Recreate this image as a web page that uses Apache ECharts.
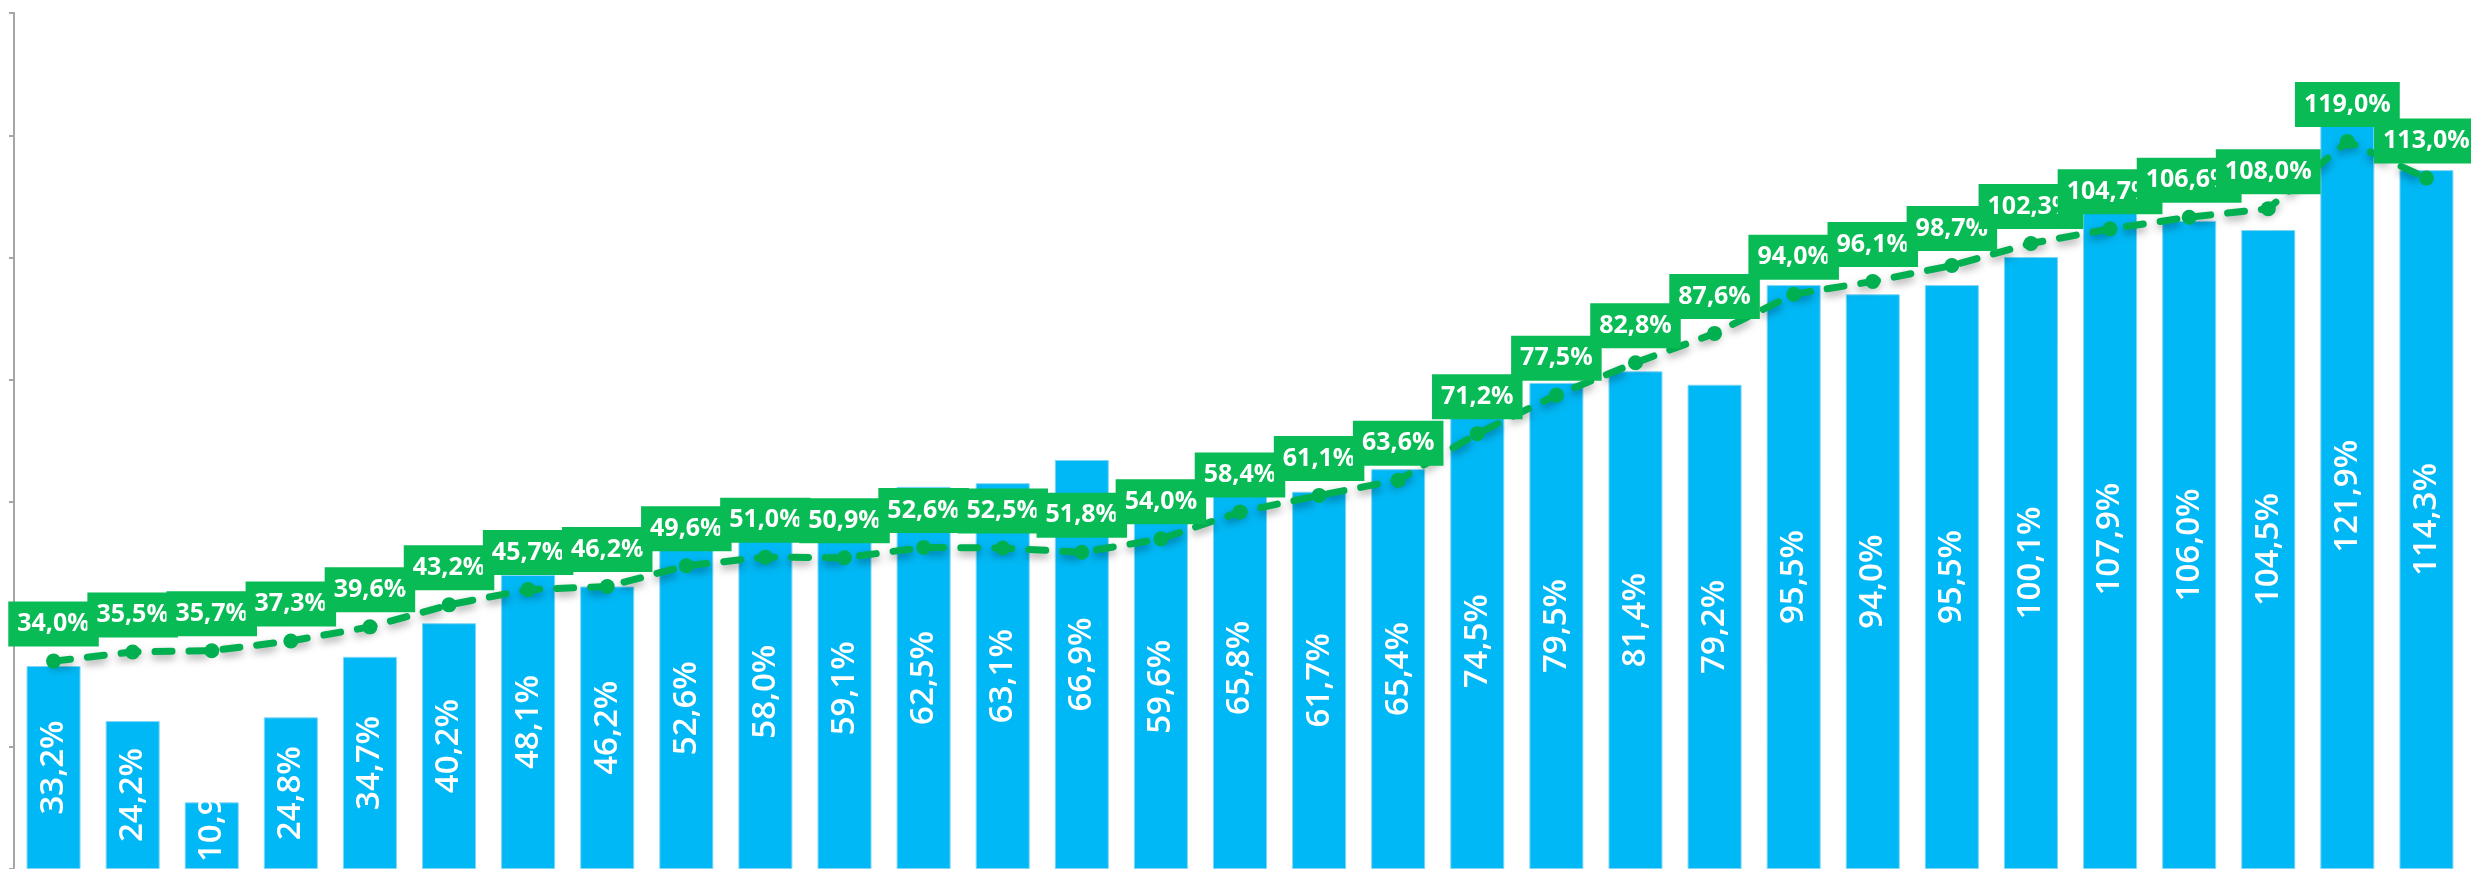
<!DOCTYPE html>
<html>
<head>
<meta charset="utf-8">
<script src="https://cdn.jsdelivr.net/npm/echarts@6/dist/echarts.min.js"></script>
<style>
  html, body { margin: 0; padding: 0; background: #fff; }
  #chart { width: 2471px; height: 869px; }
</style>
</head>
<body>
<div id="chart"></div>
<script>
// categories (no visible labels on the x axis)
var categories = [];
for (var i = 1; i <= 31; i++) categories.push(String(i));

// bar values, %
var barValues = [33.2, 24.2, 10.9, 24.8, 34.7, 40.2, 48.1, 46.2, 52.6, 58.0, 59.1, 62.5, 63.1, 66.9, 59.6,
    65.8, 61.7, 65.4, 74.5, 79.5, 81.4, 79.2, 95.5, 94.0, 95.5, 100.1, 107.9, 106.0, 104.5, 121.9, 114.3];

// dashed line values, %
var lineValues = [34.0, 35.5, 35.7, 37.3, 39.6, 43.2, 45.7, 46.2, 49.6, 51.0, 50.9, 52.6, 52.5, 51.8, 54.0,
    58.4, 61.1, 63.6, 71.2, 77.5, 82.8, 87.6, 94.0, 96.1, 98.7, 102.3, 104.7, 106.6, 108.0, 119.0, 113.0];

// y axis range
var yMin = 0, yMax = 140, yStep = 20;

function pct(v) {
    return v.toFixed(1).replace('.', ',') + '%';
}

// short bars: label would stick out below the plot, so pin it to the bar base (like excel does)
var barData = barValues.map(function(v) {
    if (v >= 16) return v;
    return {
        value: v,
        label: { position: 'insideBottom', align: 'left', verticalAlign: 'middle', distance: 7 }
    };
});

var chart = echarts.init(document.getElementById('chart'));
var option = {
    animation: false,
    grid: {
        left: 14,
        right: 5,
        top: 13,
        bottom: 0
    },
    xAxis: {
        type: 'category',
        data: categories,
        axisLine: { show: false },
        axisTick: { show: false },
        axisLabel: { show: false },
        splitLine: { show: false }
    },
    yAxis: {
        type: 'value',
        min: yMin,
        max: yMax,
        interval: yStep,
        axisLine: { show: true, lineStyle: { color: '#A6A6A6', width: 2 } },
        axisTick: { show: true, length: 5, lineStyle: { color: '#A6A6A6', width: 2 } },
        axisLabel: { show: false },
        splitLine: { show: false }
    },
    series: [{
        type: 'bar',
        data: barData,
        barWidth: 54,
        itemStyle: {
            color: '#00B8F5',
            borderColor: '#7FD6F6',
            borderWidth: 1
        },
        label: {
            show: true,
            position: 'inside',
            rotate: 90,
            color: '#fff',
            fontFamily: 'Open Sans',
            fontWeight: 600,
            fontSize: 33,
            formatter: function(p) { return pct(p.value); }
        },
        z: 2
    }, {
        type: 'line',
        data: lineValues,
        symbol: 'circle',
        symbolSize: 15,
        itemStyle: { color: '#00AF4F' },
        lineStyle: {
            color: '#00AF4F',
            width: 7,
            type: [17, 17],
            cap: 'round',
            shadowColor: 'rgba(0,0,0,0.35)',
            shadowBlur: 8,
            shadowOffsetY: 4
        },
        label: {
            show: true,
            position: 'top',
            distance: 7,
            color: '#fff',
            fontFamily: 'Open Sans',
            fontWeight: 'bold',
            fontSize: 25,
            backgroundColor: '#09BB55',
            padding: [10, 9, 10, 9],
            formatter: function(p) { return pct(p.value); }
        },
        z: 3
    }]
};
chart.setOption(option);
</script>
</body>
</html>
